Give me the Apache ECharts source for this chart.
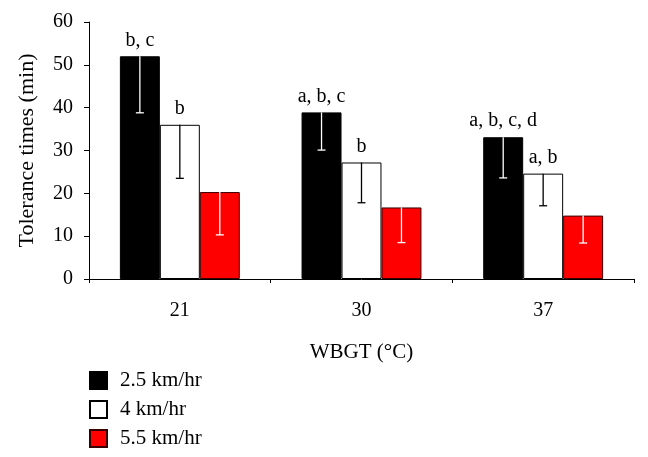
<!DOCTYPE html>
<html>
<head>
<meta charset="utf-8">
<script src="https://cdn.jsdelivr.net/npm/echarts@6/dist/echarts.min.js"></script>
<style>html,body{margin:0;padding:0;background:#fff;}#c{width:648px;height:457px;}</style>
</head>
<body>
<div id="c"></div>
<script>
var categories = ['21', '30', '37'];
var seriesNames = ['2.5 km/hr', '4 km/hr', '5.5 km/hr'];
var values25 = [52.0, 38.9, 33.1];
var values4 = [36.0, 27.2, 24.6];
var values55 = [20.3, 16.7, 14.8];
var errLow25 = [38.8, 30.1, 23.6];
var errLow4 = [23.5, 17.8, 17.1];
var errLow55 = [10.3, 8.5, 8.4];
var letters25 = ['b, c', 'a, b, c', 'a, b, c, d'];
var letters4 = ['b', 'b', 'a, b'];
var letters55 = ['', '', ''];
var yTicks = [0, 10, 20, 30, 40, 50, 60];

var FONT = 'Liberation Serif';
var BAR_FRAC = 0.22;

function errSeries(idx, tops, lows, color) {
  var data = tops.map(function (t, i) { return [i, t, lows[i]]; });
  return {
    type: 'custom',
    z: 5,
    silent: true,
    encode: { x: 0, y: [1, 2] },
    data: data,
    renderItem: function (params, api) {
      var ci = api.value(0);
      var band = api.size([1, 0])[0];
      var bw = band * BAR_FRAC;
      var top = api.coord([ci, api.value(1)]);
      var low = api.coord([ci, api.value(2)]);
      var x = top[0] + (idx - 1) * bw;
      var cap = 4;
      return {
        type: 'group',
        children: [
          { type: 'line', shape: { x1: x, y1: top[1], x2: x, y2: low[1] }, style: { stroke: color, lineWidth: 1.3 } },
          { type: 'line', shape: { x1: x - cap, y1: low[1], x2: x + cap, y2: low[1] }, style: { stroke: color, lineWidth: 1.3 } }
        ]
      };
    }
  };
}

function barSeries(name, vals, letters, fill, border) {
  return {
    name: name,
    type: 'bar',
    barWidth: (BAR_FRAC * 100) + '%',
    barGap: '0%',
    data: vals,
    itemStyle: { color: fill, borderColor: border, borderWidth: 1 },
    label: {
      show: true,
      position: 'top',
      distance: 6,
      color: '#000',
      fontFamily: FONT,
      fontSize: 20,
      formatter: function (p) { return letters[p.dataIndex]; }
    }
  };
}

var chart = echarts.init(document.getElementById('c'), null, { renderer: 'canvas' });
chart.setOption({
  animation: false,
  backgroundColor: '#fff',
  grid: { left: 89, right: 14, top: 22, bottom: 178 },
  legend: {
    data: seriesNames,
    orient: 'vertical',
    left: 84,
    top: 365,
    height: 100,
    itemWidth: 17,
    itemHeight: 17,
    itemGap: 8,
    icon: 'rect',
    textStyle: { fontFamily: FONT, fontSize: 21, color: '#000', padding: [0, 0, 0, 8] }
  },
  xAxis: {
    type: 'category',
    data: categories,
    name: 'WBGT (°C)',
    nameLocation: 'middle',
    nameGap: 63,
    nameTextStyle: { fontFamily: FONT, fontSize: 21, color: '#000' },
    axisLine: { lineStyle: { color: '#000', width: 1 } },
    axisTick: { show: true, length: 4, lineStyle: { color: '#000' } },
    axisLabel: { fontFamily: FONT, fontSize: 20, color: '#000', margin: 22 }
  },
  yAxis: {
    type: 'value',
    min: yTicks[0],
    max: yTicks[yTicks.length - 1],
    interval: 10,
    name: 'Tolerance times (min)',
    nameLocation: 'middle',
    nameGap: 51,
    nameTextStyle: { fontFamily: FONT, fontSize: 22, color: '#000' },
    axisLine: { show: true, lineStyle: { color: '#000', width: 1 } },
    axisTick: { show: true, length: 5, lineStyle: { color: '#000' } },
    axisLabel: { fontFamily: FONT, fontSize: 20, color: '#000', margin: 16 },
    splitLine: { show: false }
  },
  series: [
    barSeries(seriesNames[0], values25, letters25, '#000000', '#000000'),
    barSeries(seriesNames[1], values4, letters4, '#ffffff', '#000000'),
    barSeries(seriesNames[2], values55, letters55, '#ff0000', '#3a0000'),
    errSeries(0, values25, errLow25, '#ffffff'),
    errSeries(1, values4, errLow4, '#000000'),
    errSeries(2, values55, errLow55, '#ffffff')
  ]
});
</script>
</body>
</html>
